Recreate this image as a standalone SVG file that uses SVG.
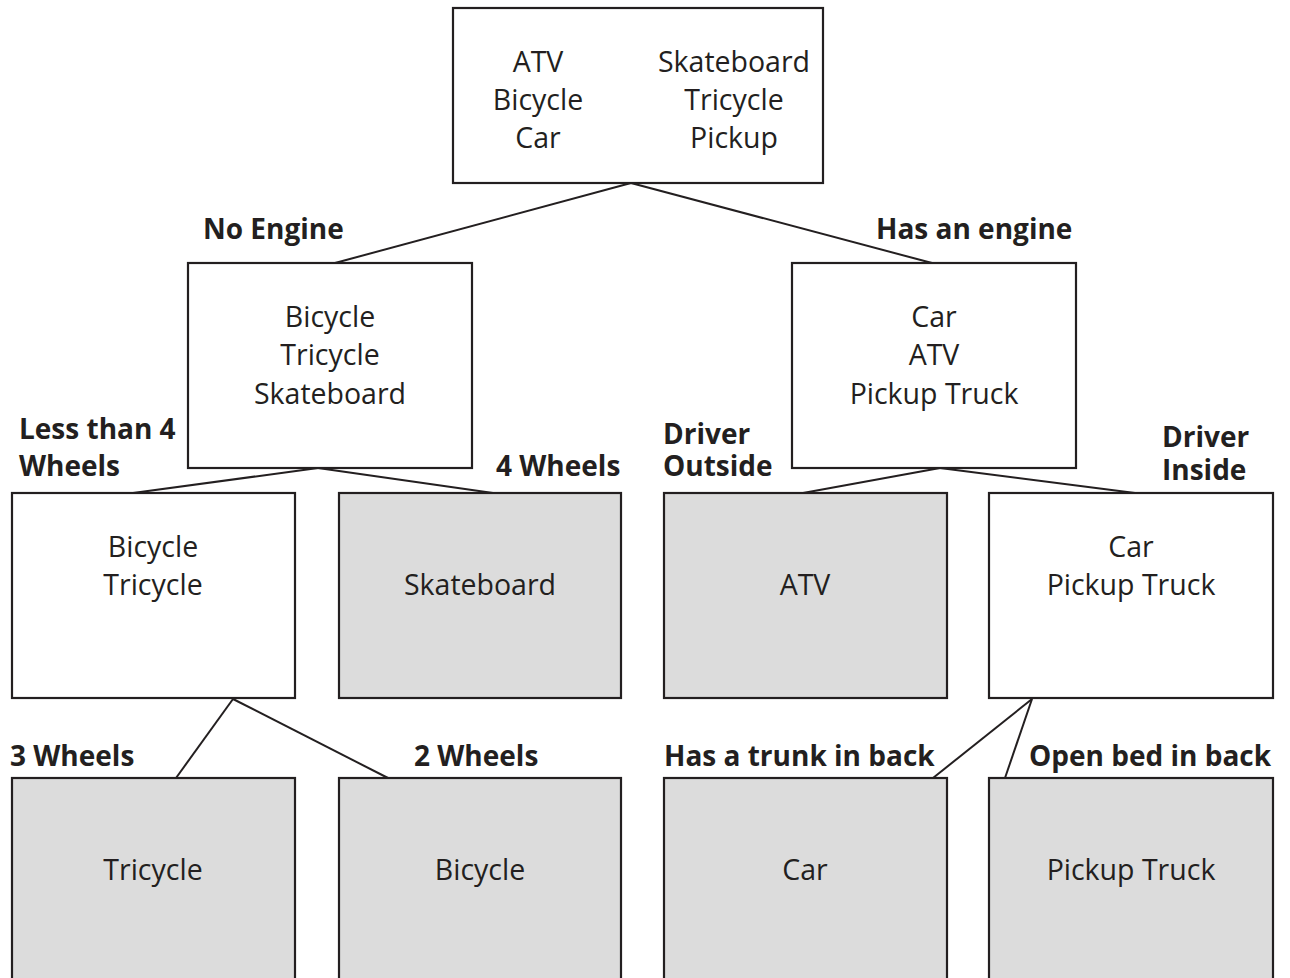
<svg xmlns="http://www.w3.org/2000/svg" width="1290" height="978" viewBox="0 0 1290 978">
  <style>
    .box { fill: #ffffff; stroke: #231f20; stroke-width: 2.2; }
    .leaf { fill: #dcdcdc; stroke: #231f20; stroke-width: 2.2; }
    .link { stroke: #231f20; stroke-width: 2; fill: none; }
    .item { font-family: "Open Sans", "Liberation Sans", sans-serif; font-size: 28.5px; fill: #231f20; text-anchor: middle; }
    .cond { font-family: "Open Sans", "Liberation Sans", sans-serif; font-size: 28px; font-weight: bold; fill: #231f20; }
  </style>
  <rect x="0" y="0" width="1290" height="978" fill="#ffffff"/>

  <!-- tree branches -->
  <g id="connectors">
    <line class="link" x1="631" y1="183" x2="335" y2="263"/>
    <line class="link" x1="631" y1="183" x2="932" y2="263"/>
    <line class="link" x1="318" y1="468" x2="133" y2="493"/>
    <line class="link" x1="318" y1="468" x2="493" y2="493"/>
    <line class="link" x1="940" y1="468" x2="803" y2="493"/>
    <line class="link" x1="940" y1="468" x2="1135" y2="493"/>
    <line class="link" x1="233" y1="699" x2="176" y2="778"/>
    <line class="link" x1="233" y1="699" x2="388" y2="778"/>
    <line class="link" x1="1032" y1="699" x2="933" y2="778"/>
    <line class="link" x1="1032" y1="699" x2="1005" y2="778"/>
  </g>

  <!-- branch conditions -->
  <g id="labels">
    <text class="cond" x="203" y="239">No Engine</text>
    <text class="cond" x="876" y="239">Has an engine</text>
    <text class="cond" x="19" y="439">Less than 4<tspan x="19" y="476">Wheels</tspan></text>
    <text class="cond" x="496" y="476">4 Wheels</text>
    <text class="cond" x="663" y="444">Driver<tspan x="663" y="476">Outside</tspan></text>
    <text class="cond" x="1162" y="447">Driver<tspan x="1162" y="480">Inside</tspan></text>
    <text class="cond" x="10" y="766">3 Wheels</text>
    <text class="cond" x="414" y="766">2 Wheels</text>
    <text class="cond" x="664" y="766">Has a trunk in back</text>
    <text class="cond" x="1029" y="766">Open bed in back</text>
  </g>

  <g id="root">
    <rect class="box" x="453" y="8" width="370" height="175"/>
    <text class="item" x="538" y="72">ATV</text>
    <text class="item" x="538" y="110">Bicycle</text>
    <text class="item" x="538" y="148">Car</text>
    <text class="item" x="734" y="72">Skateboard</text>
    <text class="item" x="734" y="110">Tricycle</text>
    <text class="item" x="734" y="148">Pickup</text>
  </g>

  <g id="no-engine">
    <rect class="box" x="188" y="263" width="284" height="205"/>
    <text class="item" x="330" y="327">Bicycle</text>
    <text class="item" x="330" y="365">Tricycle</text>
    <text class="item" x="330" y="404">Skateboard</text>
  </g>

  <g id="has-engine">
    <rect class="box" x="792" y="263" width="284" height="205"/>
    <text class="item" x="934" y="327">Car</text>
    <text class="item" x="934" y="365">ATV</text>
    <text class="item" x="934" y="404">Pickup Truck</text>
  </g>

  <g id="less-than-4">
    <rect class="box" x="12" y="493" width="283" height="205"/>
    <text class="item" x="153" y="557">Bicycle</text>
    <text class="item" x="153" y="595">Tricycle</text>
  </g>

  <g id="four-wheels">
    <rect class="leaf" x="339" y="493" width="282" height="205"/>
    <text class="item" x="480" y="595">Skateboard</text>
  </g>

  <g id="driver-outside">
    <rect class="leaf" x="664" y="493" width="283" height="205"/>
    <text class="item" x="805" y="595">ATV</text>
  </g>

  <g id="driver-inside">
    <rect class="box" x="989" y="493" width="284" height="205"/>
    <text class="item" x="1131" y="557">Car</text>
    <text class="item" x="1131" y="595">Pickup Truck</text>
  </g>

  <g id="three-wheels">
    <rect class="leaf" x="12" y="778" width="283" height="215"/>
    <text class="item" x="153" y="880">Tricycle</text>
  </g>

  <g id="two-wheels">
    <rect class="leaf" x="339" y="778" width="282" height="215"/>
    <text class="item" x="480" y="880">Bicycle</text>
  </g>

  <g id="trunk">
    <rect class="leaf" x="664" y="778" width="283" height="215"/>
    <text class="item" x="805" y="880">Car</text>
  </g>

  <g id="open-bed">
    <rect class="leaf" x="989" y="778" width="284" height="215"/>
    <text class="item" x="1131" y="880">Pickup Truck</text>
  </g>
</svg>
